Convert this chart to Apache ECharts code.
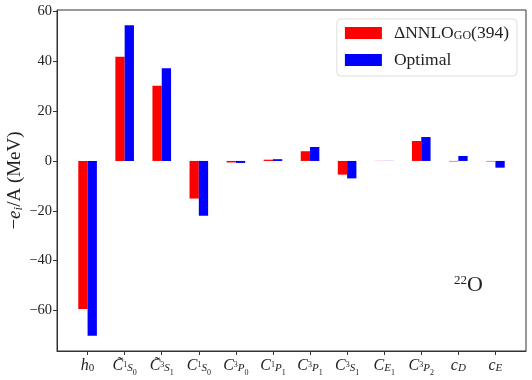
<!DOCTYPE html>
<html>
<head>
<meta charset="utf-8">
<script src="https://cdn.jsdelivr.net/npm/echarts@6/dist/echarts.min.js"></script>
<style>html,body{margin:0;padding:0;background:#fff}#c{width:532px;height:380px}</style>
</head>
<body>
<div id="c"></div>
<script>
// Tick labels (rich text markup) for each category
const categories = [
  '{it|h}{subd|0}',
  '{it|C̃}{sup|1}{sub|S}{ss|0}',
  '{it|C̃}{sup|3}{sub|S}{ss|1}',
  '{it|C}{sup|1}{sub|S}{ss|0}',
  '{it|C}{sup|3}{sub|P}{ss|0}',
  '{it|C}{sup|1}{sub|P}{ss|1}',
  '{it|C}{sup|3}{sub|P}{ss|1}',
  '{it|C}{sup|3}{sub|S}{ss|1}',
  '{it|C}{sub|E}{ss|1}',
  '{it|C}{sup|3}{sub|P}{ss|2}',
  '{it|c}{sub|D}',
  '{it|c}{sub|E}'
];
const seriesNames = ['ΔNNLO_GO(394)', 'Optimal'];
const nnloValues =    [-59.4, 41.8, 30.2, -15.1, -0.6, 0.5, 3.9, -5.5, 0.05, 8.0, -0.2, -0.2];
const optimalValues = [-70.2, 54.5, 37.2, -22.0, -0.8, 0.7, 5.6, -7.0, 0.05, 9.6, 2.0, -2.7];
const yTicks = [-60, -40, -20, 0, 20, 40, 60];

const SERIF = '"Liberation Serif", "DejaVu Serif", serif';
const chart = echarts.init(document.getElementById('c'), null, {renderer: 'canvas'});
const xTickVals = categories.map((_, i) => i);
const richX = {
  it: {fontFamily: SERIF, fontStyle: 'italic', fontSize: 16, color: '#222', lineHeight: 22, verticalAlign: 'middle'},
  sub: {fontFamily: SERIF, fontStyle: 'italic', fontSize: 11, color: '#222', lineHeight: 11, verticalAlign: 'bottom', padding: [0, 0, 3, 0]},
  subd: {fontFamily: SERIF, fontSize: 11, color: '#222', lineHeight: 11, verticalAlign: 'bottom', padding: [0, 0, 3, 0]},
  sup: {fontFamily: SERIF, fontSize: 8, color: '#222', lineHeight: 8, verticalAlign: 'top', padding: [6, 0, 0, 0]},
  ss: {fontFamily: SERIF, fontSize: 8, color: '#222', lineHeight: 8, verticalAlign: 'bottom', padding: [0, 0, 0, 0]}
};
chart.setOption({
  animation: false,
  backgroundColor: '#fff',
  grid: {left: 57, right: 6, top: 10, bottom: 29, show: true, borderColor: '#333', borderWidth: 1,
         containLabel: false, outerBoundsMode: 'none'},
  legend: {
    right: 15, top: 19, orient: 'vertical',
    icon: 'rect',
    itemWidth: 37, itemHeight: 12, itemGap: 8,
    padding: [5, 8, 7, 8],
    borderColor: '#ddd', borderWidth: 1, borderRadius: 4,
    backgroundColor: 'rgba(255,255,255,0.8)',
    data: seriesNames,
    formatter: function (n) {
      if (n.indexOf('_GO') >= 0) return '{p|}{m|ΔNNLO}{s|GO}{m|(394)}';
      return '{p|}{m|' + n + '}';
    },
    textStyle: {
      rich: {
        p: {width: 7, fontSize: 10},
        m: {fontFamily: SERIF, fontSize: 17.5, color: '#222', lineHeight: 20, verticalAlign: 'middle'},
        s: {fontFamily: SERIF, fontSize: 12, color: '#222', lineHeight: 12, verticalAlign: 'bottom', padding: [0, 0, 1, 0]}
      }
    }
  },
  xAxis: {
    type: 'value', min: -0.825, max: 11.825,
    splitLine: {show: false},
    axisLine: {show: true, onZero: false, lineStyle: {color: '#333'}},
    axisTick: {show: true, length: 4, customValues: xTickVals, lineStyle: {color: '#333'}},
    axisLabel: {
      customValues: xTickVals, margin: 4,
      formatter: v => categories[Math.round(v)],
      rich: richX
    }
  },
  yAxis: {
    type: 'value', min: -76.3, max: 60.6,
    splitLine: {show: false},
    name: '{m|−}{it|e}{sub|i}{m|/A (MeV)}',
    nameLocation: 'middle', nameGap: 30, nameRotate: 90, nameMoveOverlap: false,
    nameTextStyle: {
      rich: {
        m: {fontFamily: SERIF, fontSize: 19, color: '#222', lineHeight: 24, verticalAlign: 'middle'},
        it: {fontFamily: SERIF, fontStyle: 'italic', fontSize: 19, color: '#222', lineHeight: 24, verticalAlign: 'middle'},
        sub: {fontFamily: SERIF, fontStyle: 'italic', fontSize: 13, color: '#222', lineHeight: 13, verticalAlign: 'bottom', padding: [0, 0, 2, 0]}
      }
    },
    axisLine: {show: true, onZero: false, lineStyle: {color: '#333'}},
    axisTick: {show: true, length: 4, customValues: yTicks, lineStyle: {color: '#333'}},
    axisLabel: {
      customValues: yTicks, margin: 5,
      fontFamily: SERIF, fontSize: 14.5, color: '#222',
      formatter: v => (v < 0 ? '−' + Math.abs(v) : String(v))
    }
  },
  series: [
    {name: seriesNames[0], type: 'bar', barWidth: 9.3, barGap: '0%', itemStyle: {color: '#ff0000'},
     data: nnloValues.map((v, i) => [i, v])},
    {name: seriesNames[1], type: 'bar', barWidth: 9.3, barGap: '0%', itemStyle: {color: '#0000ff'},
     data: optimalValues.map((v, i) => [i, v])}
  ],
  graphic: [{
    type: 'text', left: 454, top: 273,
    style: {
      text: '{sup|22}{m|O}',
      rich: {
        m: {fontFamily: SERIF, fontSize: 22, fill: '#222', lineHeight: 24, verticalAlign: 'middle'},
        sup: {fontFamily: SERIF, fontSize: 13, fill: '#222', lineHeight: 13, verticalAlign: 'top', padding: [1, 0, 0, 0]}
      }
    }
  }]
});
</script>
</body>
</html>
